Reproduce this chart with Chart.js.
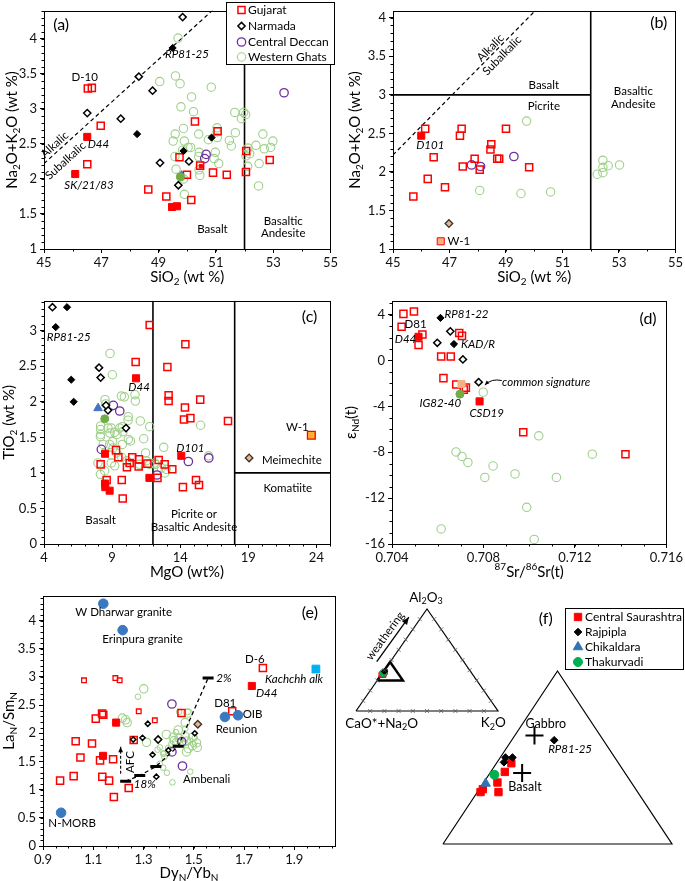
<!DOCTYPE html>
<html>
<head>
<meta charset="utf-8">
<script src="https://cdn.jsdelivr.net/npm/chart.js@4.4.1/dist/chart.umd.min.js"></script>
<style>
  body { margin: 0; background: #fff; width: 685px; height: 881px; position: relative; overflow: hidden; }
  .box { position: absolute; }
</style>
</head>
<body>
<div class="box" style="left:0;top:0;width:340px;height:290px"><canvas id="ca"></canvas></div>
<div class="box" style="left:345px;top:0;width:340px;height:290px"><canvas id="cb"></canvas></div>
<div class="box" style="left:0;top:290px;width:340px;height:295px"><canvas id="cc"></canvas></div>
<div class="box" style="left:345px;top:290px;width:340px;height:295px"><canvas id="cd"></canvas></div>
<div class="box" style="left:0;top:585px;width:340px;height:296px"><canvas id="ce"></canvas></div>
<div class="box" style="left:340px;top:590px;width:175px;height:145px"><canvas id="cf1"></canvas></div>
<div class="box" style="left:430px;top:600px;width:255px;height:255px"><canvas id="cf2"></canvas></div>
<script>
const FONT = 'Lato, "Liberation Sans", sans-serif';
Chart.defaults.font.family = FONT;
Chart.defaults.color = '#000';

// ---- (a) TAS : SiO2 vs Na2O+K2O ----
const aTicksX = [45, 47, 49, 51, 53, 55];
const aTicksY = [1, 1.5, 2, 2.5, 3, 3.5, 4];
const aGujarat = [[46.53,3.29],[46.67,3.30],[46.98,2.76],[46.51,2.21],[50.27,2.82],[48.64,1.85],[49.27,1.75],[50.14,1.70],[49.73,2.31],[49.99,2.06],[50.90,2.09],[51.38,2.06],[51.06,2.68],[52.06,2.40],[52.05,2.10],[52.88,2.27],[50.45,2.19]];
const aGujaratSel = [[46.51,2.60],[46.09,2.07],[49.47,1.60],[49.64,1.61]];
const aGujaratDot = [[50.48,2.18]];
const aNarmada = [[48.31,3.46],[48.79,3.26],[46.51,2.94],[47.68,2.86],[49.05,2.23],[50.06,2.25],[49.69,1.91],[49.84,4.31]];
const aNarmadaSel = [[49.49,3.87],[48.25,2.64],[50.85,2.59],[49.87,2.40]];
const aDeccan = [[53.38,3.23],[50.61,2.29],[50.66,2.35]];
const aGhats = [[49.68,4.01],[49.04,3.39],[49.59,3.47],[49.75,3.36],[50.84,3.31],[49.78,3.03],[50.15,3.17],[50.22,2.96],[51.66,2.95],[51.97,2.95],[52.04,2.92],[51.89,2.86],[49.87,2.72],[49.58,2.64],[50.40,2.64],[51.04,2.67],[51.04,2.73],[51.68,2.66],[49.51,2.54],[49.90,2.54],[50.03,2.45],[50.12,2.45],[50.74,2.56],[51.05,2.59],[51.47,2.55],[51.54,2.47],[50.42,2.38],[49.84,2.41],[50.40,2.32],[50.98,2.38],[50.94,2.29],[51.10,2.22],[49.57,2.32],[49.61,2.14],[50.41,2.13],[50.44,2.05],[49.78,2.03],[49.87,2.00],[49.90,1.78],[52.40,2.48],[52.64,2.64],[52.69,2.43],[52.91,2.45],[52.99,2.54],[52.12,2.44],[52.18,2.36],[52.11,2.18],[52.51,2.22],[52.49,1.90],[52.05,2.33]];
const aGhatsSel = [[49.76,2.03]];
const aChikaldara = [[49.80,2.09]];

// ---- (b) TAS : picrites ----
const bTicksX = [45, 47, 49, 51, 53, 55];
const bTicksY = [1, 1.5, 2, 2.5, 3, 3.5, 4];
const bGujarat = [[46.14,2.56],[45.72,1.68],[46.23,1.91],[46.44,2.19],[46.84,1.80],[47.37,2.47],[47.43,2.56],[47.47,2.07],[47.89,2.17],[48.07,2.03],[48.45,2.29],[48.48,2.36],[48.69,2.17],[48.76,2.17],[49.00,2.56],[49.82,2.06]];
const bGujaratSel = [[46.00,2.47]];
const bMeimechite = [[46.98,1.33]];
const bW1 = [[46.69,1.10]];
const bDeccan = [[47.78,2.09],[48.10,2.07],[49.28,2.20]];
const bGhats = [[49.73,2.66],[48.07,1.76],[49.53,1.72],[50.58,1.74],[52.23,1.97],[52.43,2.15],[52.43,2.06],[52.43,1.99],[52.62,2.08],[53.02,2.09]];

// alkalic / subalkalic divide and field boundaries (SiO2, Na2O+K2O)
const alkLine = [[45, 2.22], [51, 4.45]];
const aField = [[52, 1], [52, 4.4]];
const bFieldV = [[52, 1], [52, 4.09]];
const bFieldH = [[45, 3], [52, 3]];

// ---- (c) MgO vs TiO2 ----
const cTicksX = [4, 9, 14, 19, 24];
const cTicksY = [0, 0.5, 1, 1.5, 2, 2.5, 3];
const cGujarat = [[11.76,3.08],[14.38,2.81],[10.73,2.56],[13.06,2.49],[13.15,2.09],[13.15,2.01],[15.47,2.03],[14.35,1.92],[14.28,1.75],[14.75,1.77],[17.51,1.73],[9.29,1.32],[9.46,1.22],[8.16,1.12],[10.09,1.08],[10.48,1.22],[10.29,1.14],[10.95,1.09],[10.97,1.19],[11.59,1.13],[12.42,1.18],[12.86,1.12],[13.42,1.05],[12.33,0.93],[8.60,0.90],[9.71,0.90],[9.78,0.64],[14.20,0.80],[15.16,0.90],[15.38,0.83]];
const cGujaratSel = [[10.76,2.33],[8.48,1.27],[8.48,0.85],[8.50,0.80],[8.82,0.75],[11.74,0.93],[14.08,1.24]];
const cNarmada = [[4.62,3.33],[8.04,2.48],[8.16,2.34],[8.70,1.88],[8.55,1.95],[10.02,1.63]];
const cNarmadaSel = [[5.69,3.33],[4.86,3.05],[6.00,2.31],[6.18,2.00]];
const cDeccan = [[9.09,1.95],[9.56,1.87],[8.21,1.33],[14.60,1.16],[16.10,1.21],[12.30,0.97]];
const cChikaldara = [[7.97,1.91]];
const cGhatsSel = [[8.46,1.76]];
const cW1 = [[23.63,1.53]];
const cMeimechite = [[19.06,1.21]];
const cGhats = [[8.85,2.68],[9.02,2.38],[9.68,2.08],[9.90,2.07],[10.68,2.10],[10.71,2.01],[8.48,2.03],[8.53,1.97],[10.19,1.79],[10.17,1.74],[11.07,1.73],[11.76,1.65],[8.16,1.66],[8.16,1.61],[8.16,1.54],[8.14,1.51],[8.70,1.63],[8.94,1.63],[9.19,1.57],[9.56,1.63],[9.75,1.65],[8.85,1.56],[9.36,1.54],[9.80,1.58],[10.19,1.47],[10.34,1.45],[11.32,1.48],[9.04,1.44],[8.82,1.40],[9.07,1.35],[9.75,1.40],[12.79,1.36],[7.96,1.14],[8.14,0.98],[8.45,1.03],[11.46,1.28],[11.51,1.17],[11.76,1.12],[12.13,1.14],[12.61,1.07],[12.86,1.00],[12.98,1.05],[15.50,1.67],[8.94,1.14],[10.09,1.17],[11.02,1.12],[8.97,1.25],[9.31,1.28],[9.70,1.22],[16.09,1.24],[9.19,1.10],[8.35,1.40],[12.20,1.12]];
const cFieldA = [[12, 0], [12, 3.42]];
const cFieldB = [[18, 0], [18, 3.42]];
const cFieldC = [[18, 1], [25, 1]];

// ---- (d) 87Sr/86Sr(t) vs eNd(t) ----
const dTicksX = [0.704, 0.708, 0.712, 0.716];
const dTicksY = [-16, -12, -8, -4, 0, 4];
const dGujarat = [[0.70450,4.06],[0.70496,4.26],[0.70442,2.94],[0.70533,2.26],[0.70516,1.34],[0.70615,0.34],[0.70657,0.34],[0.70625,-1.54],[0.70681,-2.09],[0.70714,-2.54],[0.70723,-2.37],[0.70694,2.40],[0.70706,2.14],[0.70974,-6.26],[0.71421,-8.17]];
const dGujaratSel = [[0.70516,2.06],[0.70783,-3.57]];
const dOrange = [[0.70704,-2.06]];
const dNarmadaSel = [[0.70612,3.71],[0.70671,1.43]];
const dNarmada = [[0.70655,2.54],[0.70598,1.54],[0.70710,0.09],[0.70779,-1.89]];
const dGhatsSel = [[0.70697,-2.94]];
const dGhats = [[0.70799,-2.77],[0.71042,-6.57],[0.70680,-7.97],[0.70706,-8.37],[0.70732,-8.89],[0.70842,-9.20],[0.70806,-10.20],[0.70938,-9.89],[0.71119,-10.20],[0.70989,-12.80],[0.70615,-14.69],[0.71022,-15.60],[0.71276,-8.17]];

// ---- (e) DyN/YbN vs LaN/SmN ----
const eTicksX = [0.9, 1.1, 1.3, 1.5, 1.7, 1.9];
const eTicksY = [0, 0.5, 1, 1.5, 2, 2.5, 3, 3.5, 4];
const eRefs = [[1.140,4.30],[1.217,3.83],[0.972,0.59],[1.624,2.29],[1.676,2.32]];
const eKachchh = [[1.986,3.14]];
const eGujaratSel = [[1.191,2.19],[1.139,1.60],[1.731,2.84]];
const eGujarat = [[1.135,2.35],[1.140,2.33],[1.110,2.26],[1.030,1.86],[1.095,1.82],[1.049,1.57],[1.127,1.52],[1.179,1.54],[1.261,1.88],[0.968,1.16],[1.022,1.24],[1.136,1.23],[1.163,1.16],[1.241,1.03],[1.182,0.87],[1.451,2.36],[1.653,2.39],[1.775,3.16]];
const eGujaratSmall = [[1.063,2.94],[1.188,2.98],[1.205,2.94],[1.281,2.39],[1.345,2.23]];
const eMeimechite = [[1.516,2.16]];
const eNarmadaSmall = [[1.317,2.17],[1.296,1.92],[1.259,1.89],[1.336,1.62],[1.351,1.23],[1.399,1.70],[1.504,2.00]];
const eNarmada = [[1.358,1.89]];
const eDeccan = [[1.413,2.52],[1.455,1.42],[1.413,1.67],[1.452,1.85]];
const eGhats = [[1.301,2.79],[1.216,2.27],[1.229,2.24],[1.235,2.19],[1.312,1.84],[1.391,1.98],[1.442,1.91],[1.466,1.94],[1.471,1.86],[1.495,1.93],[1.478,1.73],[1.471,1.67],[1.495,1.78],[1.511,1.83],[1.514,1.75],[1.418,1.93],[1.477,2.36],[1.466,2.19],[1.438,2.06],[1.431,1.84],[1.422,1.87]];
const eGhatsSmall = [[1.278,2.65],[1.356,1.71],[1.429,2.02],[1.466,2.08],[1.476,2.38],[1.442,2.38],[1.458,1.81],[1.484,1.87],[1.498,1.81],[1.504,1.92],[1.411,1.81],[1.383,1.58],[1.365,1.46],[1.378,1.39],[1.393,1.30],[1.415,1.13],[1.486,1.32],[1.381,1.64],[1.398,1.74],[1.365,1.75],[1.378,1.64]];
// melting model, 18% -> 2%
const eMelt = [[1.229,1.15],[1.285,1.25],[1.349,1.41],[1.438,1.77],[1.557,2.98]];

// ---- (f) A-CN-K ternary, [Al2O3 %, K2O %] ----
const fSaurashtra = [[35.4,0.25],[35.7,0.28],[35.4,1.66],[36.4,1.08],[37.5,1.11],[38.4,1.17]];
const fRajpipla = [[38.5,0.54],[39.0,0.41],[39.0,0.96],[40.8,3.34]];
const fChikaldara = [[36.3,0.20]];
const fThakurvadi = [[37.2,0.44]];
const fRefRocks = [[41.3,1.54],[37.4,2.52]];   // Gabbro, Basalt
const fCorners = [[0,0],[0,100],[100,0],[0,0]];
const fZoom = [[30,0],[30,18],[48,0],[30,0]];

// ternary helpers
const toSmall = p => [p[1] / 100 + p[0] / 200, p[0] / 100];
const toBig = p => { const v = (p[0] / 100 - 0.30) / 0.18, r = (p[1] / 100) / 0.18; return [r + v / 2, v]; };

const RED = '#FF0000', PURPLE = '#7030A0', GREEN = '#9FD08A', GREEN_D = '#70AD47';

const st = {
  guj:    {pointStyle: 'rect', pointRadius: 5, pointBorderColor: RED, pointBackgroundColor: 'rgba(255,255,255,0)', pointBorderWidth: 1.5},
  gujS:   {pointStyle: 'rect', pointRadius: 3.3, pointBorderColor: RED, pointBackgroundColor: 'rgba(255,255,255,0)', pointBorderWidth: 1.3},
  gujF:   {pointStyle: 'rect', pointRadius: 5, pointBorderColor: RED, pointBackgroundColor: RED, pointBorderWidth: 1},
  gujDot: {pointStyle: 'rect', pointRadius: 2.5, pointBorderColor: RED, pointBackgroundColor: RED, pointBorderWidth: 1},
  nar:    {pointStyle: 'rectRot', pointRadius: 3.6, pointBorderColor: '#000', pointBackgroundColor: '#fff', pointBorderWidth: 1.5},
  narS:   {pointStyle: 'rectRot', pointRadius: 2.6, pointBorderColor: '#000', pointBackgroundColor: '#fff', pointBorderWidth: 1.5},
  narF:   {pointStyle: 'rectRot', pointRadius: 3.6, pointBorderColor: '#000', pointBackgroundColor: '#000', pointBorderWidth: 1},
  dec:    {pointStyle: 'circle', pointRadius: 4.2, pointBorderColor: PURPLE, pointBackgroundColor: 'rgba(255,255,255,0)', pointBorderWidth: 1.3},
  wg:     {pointStyle: 'circle', pointRadius: 4.2, pointBorderColor: GREEN, pointBackgroundColor: 'rgba(255,255,255,0)', pointBorderWidth: 1.1},
  wgS:    {pointStyle: 'circle', pointRadius: 2.8, pointBorderColor: GREEN, pointBackgroundColor: 'rgba(255,255,255,0)', pointBorderWidth: 1},
  wgF:    {pointStyle: 'circle', pointRadius: 4, pointBorderColor: GREEN_D, pointBackgroundColor: GREEN_D, pointBorderWidth: 1},
  chik:   {pointStyle: 'triangle', pointRadius: 5, pointBorderColor: '#4472C4', pointBackgroundColor: '#4472C4', pointBorderWidth: 1},
  chikS:  {pointStyle: 'triangle', pointRadius: 2, pointBorderColor: '#4472C4', pointBackgroundColor: '#4472C4', pointBorderWidth: 1},
  meim:   {pointStyle: 'rectRot', pointRadius: 3.8, pointBorderColor: '#333', pointBackgroundColor: '#F4B183', pointBorderWidth: 1.3},
  w1b:    {pointStyle: 'rect', pointRadius: 5, pointBorderColor: RED, pointBackgroundColor: '#F4B183', pointBorderWidth: 1},
  w1c:    {pointStyle: 'rect', pointRadius: 5.5, pointBorderColor: RED, pointBackgroundColor: '#FFB02E', pointBorderWidth: 1.3},
  orng:   {pointStyle: 'rect', pointRadius: 5, pointBorderColor: '#F4B183', pointBackgroundColor: '#F4B183', pointBorderWidth: 1},
  ref:    {pointStyle: 'circle', pointRadius: 4.8, pointBorderColor: '#3A78C2', pointBackgroundColor: '#3A78C2', pointBorderWidth: 1},
  kach:   {pointStyle: 'rect', pointRadius: 5.5, pointBorderColor: '#00B0F0', pointBackgroundColor: '#00B0F0', pointBorderWidth: 1},
  fSau:   {pointStyle: 'rect', pointRadius: 5.2, pointBorderColor: RED, pointBackgroundColor: RED, pointBorderWidth: 1},
  fRaj:   {pointStyle: 'rectRot', pointRadius: 3.8, pointBorderColor: '#000', pointBackgroundColor: '#000', pointBorderWidth: 1},
  fChik:  {pointStyle: 'triangle', pointRadius: 5.5, pointBorderColor: '#2E75B6', pointBackgroundColor: '#2E75B6', pointBorderWidth: 1},
  fThak:  {pointStyle: 'circle', pointRadius: 4.5, pointBorderColor: '#00B050', pointBackgroundColor: '#00B050', pointBorderWidth: 1},
  cross:  {pointStyle: 'cross', pointRadius: 9, pointBorderColor: '#000', pointBackgroundColor: '#000', pointBorderWidth: 2}
};

function pts(arr, f) { return arr.map(p => { const q = f ? f(p) : p; return {x: q[0], y: q[1]}; }); }
function sc(arr, style, f) { return Object.assign({data: pts(arr, f), showLine: false}, style); }
function ln(arr, extra, f) {
  return Object.assign({data: pts(arr, f), showLine: true, pointRadius: 0, borderColor: '#000', borderWidth: 1.5, fill: false}, extra);
}

// text with _{sub} and ^{sup} parts
function richText(ctx, str, x, y, o) {
  const size = o.size || 11, style = o.italic ? 'italic ' : '';
  const segs = [];
  const re = /([_^])\{([^}]*)\}|([^_^]+)/g;
  let m;
  while ((m = re.exec(str))) segs.push(m[3] !== undefined ? {t: m[3], k: ''} : {t: m[2], k: m[1]});
  const fontFor = s => style + (s.k ? Math.round(size * 0.68) : size) + 'px ' + FONT;
  let w = 0;
  segs.forEach(s => { ctx.font = fontFor(s); s.w = ctx.measureText(s.t).width; w += s.w; });
  ctx.save();
  ctx.translate(x, y);
  if (o.rot) ctx.rotate(o.rot);
  let cx = o.align === 'left' ? 0 : o.align === 'right' ? -w : -w / 2;
  ctx.textBaseline = 'middle';
  ctx.textAlign = 'left';
  ctx.fillStyle = o.color || '#000';
  segs.forEach(s => {
    ctx.font = fontFor(s);
    const dy = s.k === '_' ? size * 0.3 : s.k === '^' ? -size * 0.35 : 0;
    ctx.fillText(s.t, cx, dy);
    cx += s.w;
  });
  ctx.restore();
}

function drawMarker(ctx, s, x, y) {
  const r = s.pointRadius;
  ctx.beginPath();
  if (s.pointStyle === 'rect') {
    const h = r * Math.SQRT1_2;
    ctx.rect(x - h, y - h, 2 * h, 2 * h);
  } else if (s.pointStyle === 'rectRot') {
    ctx.moveTo(x - r, y); ctx.lineTo(x, y - r); ctx.lineTo(x + r, y); ctx.lineTo(x, y + r); ctx.closePath();
  } else if (s.pointStyle === 'triangle') {
    for (let i = 0; i < 3; i++) {
      const a = i * 2 * Math.PI / 3;
      ctx[i ? 'lineTo' : 'moveTo'](x + Math.sin(a) * r, y - Math.cos(a) * r);
    }
    ctx.closePath();
  } else {
    ctx.arc(x, y, r, 0, 2 * Math.PI);
  }
  ctx.fillStyle = s.pointBackgroundColor;
  ctx.fill();
  if (s.pointBorderWidth) { ctx.lineWidth = s.pointBorderWidth; ctx.strokeStyle = s.pointBorderColor; ctx.stroke(); }
}

function arrowHead(ctx, x, y, ang, size) {
  ctx.beginPath();
  ctx.moveTo(x, y);
  ctx.lineTo(x - size * Math.cos(ang - 0.4), y - size * Math.sin(ang - 0.4));
  ctx.lineTo(x - size * Math.cos(ang + 0.4), y - size * Math.sin(ang + 0.4));
  ctx.closePath();
  ctx.fill();
}

// frame, minor ticks, axis titles, notes, arrows, legend
const deco = {
  id: 'deco',
  afterDraw(chart, args, o) {
    if (!o || !o.on) return;
    const ctx = chart.ctx, a = chart.chartArea, sx = chart.scales.x, sy = chart.scales.y;
    const X = v => sx.getPixelForValue(v), Y = v => sy.getPixelForValue(v);
    ctx.save();
    ctx.strokeStyle = '#000';
    ctx.fillStyle = '#000';
    if (o.frame) {
      ctx.lineWidth = 1;
      ctx.strokeRect(Math.round(a.left) + 0.5, Math.round(a.top) + 0.5, Math.round(a.right - a.left), Math.round(a.bottom - a.top));
      ctx.beginPath();
      for (let n = Math.ceil(sx.min / o.minorX - 1e-6); n * o.minorX <= sx.max + 1e-9; n++) {
        const p = Math.round(X(n * o.minorX)) + 0.5;
        ctx.moveTo(p, a.bottom); ctx.lineTo(p, a.bottom + 2.5);
      }
      for (let n = Math.ceil(sy.min / o.minorY - 1e-6); n * o.minorY <= sy.max + 1e-9; n++) {
        const p = Math.round(Y(n * o.minorY)) + 0.5;
        ctx.moveTo(a.left, p); ctx.lineTo(a.left - 2.5, p);
      }
      ctx.stroke();
    }
    if (o.xTitle) richText(ctx, o.xTitle, (a.left + a.right) / 2, a.bottom + o.xTitleDy, {size: 15});
    if (o.yTitle) richText(ctx, o.yTitle, o.yTitleX, (a.top + a.bottom) / 2, {size: 15, rot: -Math.PI / 2});
    (o.triTicks || []).forEach(side => {
      const [p, q] = side;
      ctx.lineWidth = 0.8;
      ctx.strokeStyle = '#555';
      for (let i = 1; i < 10; i++) {
        const t = i / 10, px = X(p[0] + (q[0] - p[0]) * t), py = Y(p[1] + (q[1] - p[1]) * t);
        ctx.beginPath();
        ctx.moveTo(px - 2, py - 2); ctx.lineTo(px + 2, py + 2);
        ctx.moveTo(px - 2, py + 2); ctx.lineTo(px + 2, py - 2);
        ctx.stroke();
      }
    });
    (o.arrows || []).forEach(ar => {
      const x1 = X(ar.from[0]), y1 = Y(ar.from[1]), x2 = X(ar.to[0]), y2 = Y(ar.to[1]);
      ctx.strokeStyle = '#000'; ctx.fillStyle = '#000';
      ctx.lineWidth = ar.width || 1.2;
      ctx.setLineDash(ar.dash || []);
      ctx.beginPath();
      ctx.moveTo(x1, y1);
      let ang;
      if (ar.via) {
        const cx = X(ar.via[0]), cy = Y(ar.via[1]);
        ctx.quadraticCurveTo(cx, cy, x2, y2);
        ang = Math.atan2(y2 - cy, x2 - cx);
      } else {
        ctx.lineTo(x2, y2);
        ang = Math.atan2(y2 - y1, x2 - x1);
      }
      ctx.stroke();
      ctx.setLineDash([]);
      arrowHead(ctx, x2, y2, ang, ar.head || 7);
    });
    (o.notes || []).forEach(n => {
      let rot = 0;
      if (n.along) {
        const [[x1, y1], [x2, y2]] = n.along;
        rot = Math.atan2(Y(y2) - Y(y1), X(x2) - X(x1));
      } else if (n.rot) rot = n.rot * Math.PI / 180;
      richText(ctx, n.t, X(n.x), Y(n.y), {size: n.sz || 11.5, italic: n.it, align: n.al, rot});
    });
    if (o.legend) {
      const L = o.legend;
      ctx.fillStyle = '#fff';
      ctx.fillRect(L.box[0], L.box[1], L.box[2], L.box[3]);
      ctx.lineWidth = 1;
      ctx.strokeStyle = '#000';
      ctx.strokeRect(L.box[0] + 0.5, L.box[1] + 0.5, L.box[2], L.box[3]);
      L.items.forEach((it, i) => {
        drawMarker(ctx, it[1], L.mx, L.rows[i]);
        richText(ctx, it[0], L.tx, L.rows[i], {size: L.size || 12, align: 'left'});
      });
    }
    ctx.restore();
  }
};
Chart.register(deco);

function axis(min, max, ticks, dir, size) {
  return {
    type: 'linear', min: min, max: max,
    grid: {display: true, drawOnChartArea: false, drawTicks: true, tickLength: 4, color: '#000', lineWidth: 1},
    border: {display: false},
    ticks: {font: {size: 13}, color: '#111', padding: dir === 'x' ? 2 : 3, maxRotation: 0, autoSkip: false,
            callback: v => String(+Number(v).toFixed(4))},
    afterBuildTicks: s => { s.ticks = ticks.map(v => ({value: v})); },
    afterFit: s => { if (dir === 'x') s.height = size; else s.width = size; }
  };
}

function panel(id, c) {
  return new Chart(document.getElementById(id), {
    type: 'scatter',
    data: {datasets: c.datasets},
    options: {
      responsive: true, maintainAspectRatio: false, animation: false, events: [],
      layout: {padding: c.pad, autoPadding: false},
      plugins: {legend: {display: false}, tooltip: {enabled: false}, deco: Object.assign({on: true, frame: true}, c.deco)},
      scales: {x: axis(c.x[0], c.x[1], c.xTicks, 'x', c.xH), y: axis(c.y[0], c.y[1], c.yTicks, 'y', c.yW)}
    }
  });
}

function ternary(id, c) {
  return new Chart(document.getElementById(id), {
    type: 'scatter',
    data: {datasets: c.datasets},
    options: {
      responsive: true, maintainAspectRatio: false, animation: false, events: [],
      layout: {padding: 0, autoPadding: false},
      plugins: {legend: {display: false}, tooltip: {enabled: false}, deco: Object.assign({on: true, frame: false}, c.deco)},
      scales: {x: {type: 'linear', display: false, min: c.x[0], max: c.x[1]},
               y: {type: 'linear', display: false, min: c.y[0], max: c.y[1]}}
    }
  });
}

// (a)
panel('ca', {
  x: [45, 55], y: [1, 4.4], xTicks: aTicksX, yTicks: aTicksY, xH: 41, yW: 44,
  pad: {top: 1, right: 8, left: 0, bottom: 0},
  datasets: [
    sc(aGujaratDot, st.gujDot), sc(aGujaratSel, st.gujF), sc(aNarmadaSel, st.narF), sc(aGhatsSel, st.wgF),
    sc(aChikaldara, st.chikS), sc(aGujarat, st.guj), sc(aNarmada, st.nar), sc(aDeccan, st.dec), sc(aGhats, st.wg),
    ln(alkLine, {borderWidth: 1.2, borderDash: [4, 3]}), ln(aField, {borderWidth: 1.6})
  ],
  deco: {
    minorX: 1, minorY: 0.1, xTitle: 'SiO_{2} (wt %)', xTitleDy: 28, yTitle: 'Na_{2}O+K_{2}O (wt %)', yTitleX: 12,
    notes: [
      {t: '(a)', x: 45.6, y: 4.2, sz: 16},
      {t: 'D-10', x: 46.42, y: 3.45},
      {t: 'RP81-25', x: 49.99, y: 3.78, it: true},
      {t: 'D44', x: 46.9, y: 2.5, it: true},
      {t: 'SK/21/83', x: 46.57, y: 1.91, it: true},
      {t: 'Basalt', x: 50.88, y: 1.28},
      {t: 'Basaltic', x: 53.35, y: 1.40},
      {t: 'Andesite', x: 53.35, y: 1.23},
      {t: 'Alkalic', x: 45.37, y: 2.49, along: alkLine},
      {t: 'Subalkalic', x: 45.75, y: 2.26, along: alkLine}
    ],
    legend: {box: [226, 2, 108, 62], rows: [10, 26, 42, 57], mx: 241.5, tx: 248, size: 12,
             items: [['Gujarat', st.guj], ['Narmada', st.nar], ['Central Deccan', st.dec], ['Western Ghats', st.wg]]}
  }
});

// (b)
panel('cb', {
  x: [45, 55], y: [1, 4.09], xTicks: bTicksX, yTicks: bTicksY, xH: 41, yW: 48,
  pad: {top: 1, right: 6, left: 0, bottom: 0},
  datasets: [
    sc(bGujaratSel, st.gujF), sc(bW1, st.w1b), sc(bMeimechite, st.meim), sc(bGujarat, st.guj),
    sc(bDeccan, st.dec), sc(bGhats, st.wg),
    ln(alkLine, {borderWidth: 1.2, borderDash: [4, 3]}), ln(bFieldV, {borderWidth: 1.6}), ln(bFieldH, {borderWidth: 1.6})
  ],
  deco: {
    minorX: 1, minorY: 0.1, xTitle: 'SiO_{2} (wt %)', xTitleDy: 28, yTitle: 'Na_{2}O+K_{2}O (wt %)', yTitleX: 10,
    notes: [
      {t: '(b)', x: 54.41, y: 3.93, sz: 16},
      {t: 'Basalt', x: 50.34, y: 3.13},
      {t: 'Picrite', x: 50.34, y: 2.85},
      {t: 'Basaltic', x: 53.51, y: 3.05},
      {t: 'Andesite', x: 53.51, y: 2.88},
      {t: 'D101', x: 46.32, y: 2.35, it: true},
      {t: 'W-1', x: 46.93, y: 1.10, al: 'left'},
      {t: 'Alkalic', x: 48.45, y: 3.61, along: alkLine},
      {t: 'Subalkalic', x: 48.86, y: 3.51, along: alkLine}
    ]
  }
});

// (c)
panel('cc', {
  x: [4, 25], y: [0, 3.42], xTicks: cTicksX, yTicks: cTicksY, xH: 41, yW: 44,
  pad: {top: 7, right: 10, left: 0, bottom: 0},
  datasets: [
    sc(cGujaratSel, st.gujF), sc(cNarmadaSel, st.narF), sc(cChikaldara, st.chik), sc(cGhatsSel, st.wgF),
    sc(cW1, st.w1c), sc(cMeimechite, st.meim), sc(cNarmada, st.nar), sc(cGujarat, st.guj),
    sc(cDeccan, st.dec), sc(cGhats, st.wg),
    ln(cFieldA, {borderWidth: 1.6}), ln(cFieldB, {borderWidth: 1.6}), ln(cFieldC, {borderWidth: 1.6})
  ],
  deco: {
    minorX: 1, minorY: 0.1, xTitle: 'MgO (wt%)', xTitleDy: 28, yTitle: 'TiO_{2} (wt %)', yTitleX: 9,
    notes: [
      {t: '(c)', x: 23.5, y: 3.19, sz: 16},
      {t: 'RP81-25', x: 5.81, y: 2.91, it: true},
      {t: 'D44', x: 10.98, y: 2.2, it: true},
      {t: 'D101', x: 14.75, y: 1.35, it: true},
      {t: 'W-1', x: 22.6, y: 1.64},
      {t: 'Meimechite', x: 22.2, y: 1.18},
      {t: 'Komatiite', x: 21.9, y: 0.78},
      {t: 'Basalt', x: 8.16, y: 0.33},
      {t: 'Picrite or', x: 15.01, y: 0.42},
      {t: 'Basaltic Andesite', x: 15.01, y: 0.23}
    ]
  }
});

// (d)
panel('cd', {
  x: [0.704, 0.716], y: [-16, 5.2], xTicks: dTicksX, yTicks: dTicksY, xH: 41, yW: 47,
  pad: {top: 7, right: 14, left: 0, bottom: 0},
  datasets: [
    sc(dGujaratSel, st.gujF), sc(dNarmadaSel, st.narF), sc(dOrange, st.orng), sc(dGhatsSel, st.wgF),
    sc(dNarmada, st.nar), sc(dGujarat, st.guj), sc(dGhats, st.wg)
  ],
  deco: {
    minorX: 0.001, minorY: 1, xTitle: '^{87}Sr/^{86}Sr(t)', xTitleDy: 28, yTitle: 'ε_{Nd}(t)', yTitleX: 6,
    notes: [
      {t: '(d)', x: 0.7152, y: 3.63, sz: 16},
      {t: 'RP81-22', x: 0.70726, y: 4.06, it: true},
      {t: 'D81', x: 0.70503, y: 3.12},
      {t: 'D44', x: 0.70459, y: 1.86, it: true},
      {t: 'KAD/R', x: 0.70776, y: 1.43, it: true},
      {t: 'common signature', x: 0.71074, y: -1.94, it: true},
      {t: 'IG82-40', x: 0.70611, y: -3.74, it: true},
      {t: 'CSD19', x: 0.70814, y: -4.57, it: true}
    ],
    arrows: [{from: [0.70880, -1.75], via: [0.70835, -1.55], to: [0.70806, -2.15], width: 1, head: 5}]
  }
});

// (e)
panel('ce', {
  x: [0.9, 2.062], y: [0, 4.44], xTicks: eTicksX, yTicks: eTicksY, xH: 35, yW: 43,
  pad: {top: 10, right: 5, left: 0, bottom: 0},
  datasets: [
    sc(eRefs, st.ref), sc(eKachchh, st.kach), sc(eGujaratSel, st.gujF),
    ln(eMelt, {borderWidth: 1.3, borderDash: [4, 3], pointRadius: 5.5, pointStyle: 'line', pointBorderWidth: 3, pointBorderColor: '#000'}),
    sc(eMeimechite, st.meim), sc(eNarmada, st.nar), sc(eNarmadaSmall, st.narS),
    sc(eGujarat, st.guj), sc(eGujaratSmall, st.gujS), sc(eDeccan, st.dec),
    sc(eGhats, st.wg), sc(eGhatsSmall, st.wgS)
  ],
  deco: {
    minorX: 0.05, minorY: 0.1, xTitle: 'Dy_{N}/Yb_{N}', xTitleDy: 27, yTitle: 'La_{N}/Sm_{N}', yTitleX: 9,
    notes: [
      {t: '(e)', x: 1.962, y: 4.14, sz: 16},
      {t: 'W Dharwar granite', x: 1.221, y: 4.14},
      {t: 'Erinpura granite', x: 1.296, y: 3.66},
      {t: 'N-MORB', x: 1.016, y: 0.40},
      {t: 'D-6', x: 1.743, y: 3.31},
      {t: 'Kachchh alk', x: 1.899, y: 2.95, it: true},
      {t: 'D44', x: 1.79, y: 2.71, it: true},
      {t: 'D81', x: 1.625, y: 2.53},
      {t: 'OIB', x: 1.734, y: 2.33},
      {t: 'Reunion', x: 1.67, y: 2.07},
      {t: 'Ambenali', x: 1.551, y: 1.18},
      {t: '18%', x: 1.305, y: 1.09, it: true},
      {t: '2%', x: 1.62, y: 2.98, it: true},
      {t: 'AFC', x: 1.249, y: 1.49, rot: -90}
    ],
    arrows: [{from: [1.209, 1.28], to: [1.209, 1.76], dash: [3, 2], width: 1.1, head: 6}]
  }
});

// (f) small A-CN-K triangle
ternary('cf1', {
  x: [-0.1127, 1.1197], y: [-0.2353, 1.1863],
  datasets: [
    sc(fRajpipla.slice(0, 3), Object.assign({}, st.fRaj, {pointRadius: 2.5}), toSmall),
    sc(fThakurvadi, Object.assign({}, st.fThak, {pointRadius: 3.5}), toSmall),
    sc(fChikaldara, Object.assign({}, st.fChik, {pointRadius: 3.5}), toSmall),
    sc(fSaurashtra, Object.assign({}, st.fSau, {pointRadius: 3.5}), toSmall),
    ln(fZoom, {borderWidth: 2.5}, toSmall),
    ln(fCorners, {borderWidth: 1.2}, toSmall)
  ],
  deco: {
    triTicks: [[[0, 0], [1, 0]], [[1, 0], [0.5, 1]], [[0.5, 1], [0, 0]]],
    notes: [
      {t: 'Al_{2}O_{3}', x: 0.493, y: 1.115, sz: 13.5},
      {t: 'CaO*+Na_{2}O', x: 0.181, y: -0.12, sz: 13.5},
      {t: 'K_{2}O', x: 0.967, y: -0.115, sz: 13.5},
      {t: 'weathering', x: 0.205, y: 0.735, sz: 11.5, rot: -54}
    ],
    arrows: [{from: [0.146, 0.483], to: [0.372, 0.92], width: 1.3, head: 8}]
  }
});

// (f) enlarged field
ternary('cf2', {
  x: [-0.0568, 1.0568], y: [-0.0636, 1.4104],
  datasets: [
    sc(fRefRocks, st.cross, toBig),
    sc(fRajpipla, st.fRaj, toBig),
    sc(fThakurvadi, st.fThak, toBig),
    sc(fChikaldara, st.fChik, toBig),
    sc(fSaurashtra, st.fSau, toBig),
    ln(fZoom, {borderWidth: 1.2}, toBig)
  ],
  deco: {
    notes: [
      {t: '(f)', x: 0.449, y: 1.30, sz: 16},
      {t: 'Gabbro', x: 0.449, y: 0.692, sz: 12.5},
      {t: 'RP81-25', x: 0.555, y: 0.55, it: true},
      {t: 'Basalt', x: 0.358, y: 0.331, sz: 12.5}
    ],
    legend: {box: [135, 8, 118, 61], rows: [17, 32, 47, 62], mx: 148, tx: 155, size: 12,
             items: [['Central Saurashtra', st.fSau], ['Rajpipla', st.fRaj], ['Chikaldara', st.fChik], ['Thakurvadi', st.fThak]]}
  }
});
</script>
</body>
</html>
